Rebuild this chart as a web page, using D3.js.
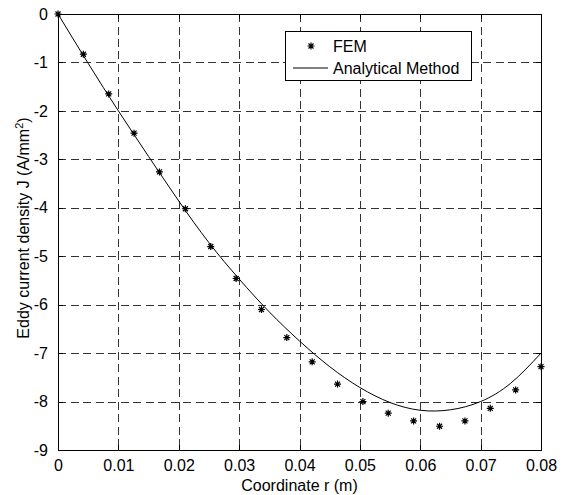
<!DOCTYPE html>
<html>
<head>
<meta charset="utf-8">
<script src="https://cdn.jsdelivr.net/npm/d3@7"></script>
<style>
  html, body { margin: 0; padding: 0; background: #fff; }
  svg { display: block; font-family: "Liberation Sans", Arial, Helvetica, sans-serif; }
</style>
</head>
<body>
<svg id="chart" width="566" height="495"></svg>
<script>
// FEM samples: radial coordinate r (m) and eddy current density J (A/mm^2)
const femR = [0, 0.0042, 0.0084, 0.0126, 0.0168, 0.0211, 0.0253, 0.0295, 0.0337, 0.0379,
              0.0421, 0.0463, 0.0505, 0.0547, 0.0589, 0.0632, 0.0674, 0.0716, 0.0758, 0.0800];
const femJ = [0, -0.83, -1.65, -2.46, -3.26, -4.02, -4.80, -5.46, -6.10, -6.68,
              -7.18, -7.64, -8.00, -8.24, -8.40, -8.51, -8.40, -8.14, -7.76, -7.28];

// Analytical solution, sampled along r
const anaR = [0, 0.005, 0.010, 0.015, 0.020, 0.025, 0.030, 0.035, 0.040,
              0.045, 0.050, 0.055, 0.060, 0.065, 0.070, 0.075, 0.080];
const anaJ = [0, -1.02, -2.00, -2.94, -3.86, -4.72, -5.47, -6.15, -6.75,
              -7.28, -7.71, -8.02, -8.18, -8.17, -8.00, -7.62, -7.00];

// Axis ticks
const xTicks = [0, 0.01, 0.02, 0.03, 0.04, 0.05, 0.06, 0.07, 0.08];
const xTickLabels = ["0", "0.01", "0.02", "0.03", "0.04", "0.05", "0.06", "0.07", "0.08"];
const yTicks = [0, -1, -2, -3, -4, -5, -6, -7, -8, -9];
const yTickLabels = ["0", "-1", "-2", "-3", "-4", "-5", "-6", "-7", "-8", "-9"];

const legendLabels = ["FEM", "Analytical Method"];

const svg = d3.select("#chart");
const plot = { left: 58, right: 541, top: 14, bottom: 450 };

const x = d3.scaleLinear().domain([0, 0.08]).range([plot.left, plot.right]);
const y = d3.scaleLinear().domain([-9, 0]).range([plot.bottom, plot.top]);

svg.append("rect").attr("width", 566).attr("height", 495).attr("fill", "#fff");

// Dashed grid
const grid = svg.append("g").attr("stroke", "#333").attr("stroke-width", 1)
  .attr("stroke-dasharray", "8,4.5").attr("shape-rendering", "crispEdges");
grid.selectAll("line.vx").data(xTicks.slice(1, -1)).join("line")
  .attr("x1", d => Math.round(x(d)) + 0.5).attr("x2", d => Math.round(x(d)) + 0.5)
  .attr("y1", plot.top).attr("y2", plot.bottom);
grid.selectAll("line.hy").data(yTicks.slice(1, -1)).join("line")
  .attr("x1", plot.left).attr("x2", plot.right)
  .attr("y1", d => Math.round(y(d)) + 0.5).attr("y2", d => Math.round(y(d)) + 0.5);

// Axes with inward ticks on all four sides
const tickLen = 5;
const fontSize = 16;
const xAxisB = d3.axisBottom(x).tickValues(xTicks).tickSize(-tickLen).tickPadding(tickLen + 5)
  .tickFormat((d, i) => xTickLabels[i]);
const xAxisT = d3.axisTop(x).tickValues(xTicks).tickSize(-tickLen).tickFormat("");
const yAxisL = d3.axisLeft(y).tickValues(yTicks).tickSize(-tickLen).tickPadding(tickLen + 5)
  .tickFormat((d, i) => yTickLabels[i]);
const yAxisR = d3.axisRight(y).tickValues(yTicks).tickSize(-tickLen).tickFormat("");

function styleAxis(g) {
  g.select(".domain").attr("stroke", "#000").attr("stroke-width", 1);
  g.selectAll(".tick line").attr("stroke", "#000");
  g.selectAll(".tick text").attr("fill", "#000").attr("font-size", fontSize)
    .attr("font-family", "Liberation Sans, Arial, sans-serif");
  g.attr("shape-rendering", "crispEdges");
}
svg.append("g").attr("transform", `translate(0,${plot.bottom})`).call(xAxisB).call(styleAxis);
svg.append("g").attr("transform", `translate(0,${plot.top})`).call(xAxisT).call(styleAxis);
svg.append("g").attr("transform", `translate(${plot.left},0)`).call(yAxisL).call(styleAxis);
svg.append("g").attr("transform", `translate(${plot.right},0)`).call(yAxisR).call(styleAxis);
svg.selectAll(".domain").attr("d", null);
svg.append("rect")
  .attr("x", plot.left + 0.5).attr("y", plot.top + 0.5)
  .attr("width", plot.right - plot.left).attr("height", plot.bottom - plot.top)
  .attr("fill", "none").attr("stroke", "#000").attr("stroke-width", 1)
  .attr("shape-rendering", "crispEdges");

// Analytical curve
const anaPts = anaR.map((r, i) => [r, anaJ[i]]);
const line = d3.line().x(d => x(d[0])).y(d => y(d[1])).curve(d3.curveNatural);
svg.append("path").datum(anaPts).attr("d", line)
  .attr("fill", "none").attr("stroke", "#000").attr("stroke-width", 1);

// Asterisk marker (plus + cross)
const starPath = "M-3.5,0H3.5M0,-3.5V3.5M-2.5,-2.5L2.5,2.5M-2.5,2.5L2.5,-2.5";
const femPts = femR.map((r, i) => [r, femJ[i]]);
svg.append("g").selectAll("path").data(femPts).join("path")
  .attr("transform", d => `translate(${x(d[0])},${y(d[1])})`)
  .attr("d", starPath).attr("fill", "none").attr("stroke", "#000").attr("stroke-width", 1.2);

// Axis titles
svg.append("text").attr("x", (plot.left + plot.right) / 2).attr("y", 491)
  .attr("text-anchor", "middle").attr("font-size", fontSize).attr("fill", "#000")
  .text("Coordinate r (m)");
const yl = svg.append("text")
  .attr("transform", `translate(29,${(plot.top + plot.bottom) / 2 - 4}) rotate(-90)`)
  .attr("text-anchor", "middle").attr("font-size", fontSize).attr("fill", "#000");
yl.append("tspan").text("Eddy current density J (A/mm");
yl.append("tspan").attr("font-size", 11).attr("dy", -6).text("2");
yl.append("tspan").attr("dy", 6).text(")");

// Legend
const lg = svg.append("g");
lg.append("rect").attr("x", 285.5).attr("y", 31.5).attr("width", 186).attr("height", 49)
  .attr("fill", "#fff").attr("stroke", "#000").attr("stroke-width", 1)
  .attr("shape-rendering", "crispEdges");
lg.append("path").attr("transform", "translate(311,46)").attr("d", starPath)
  .attr("fill", "none").attr("stroke", "#000").attr("stroke-width", 1.2);
lg.append("line").attr("x1", 293).attr("x2", 328).attr("y1", 68).attr("y2", 68)
  .attr("stroke", "#000").attr("stroke-width", 1);
lg.selectAll("text").data(legendLabels).join("text")
  .attr("x", 333).attr("y", (d, i) => 52 + i * 22)
  .attr("font-size", fontSize).attr("fill", "#000").text(d => d);
</script>
</body>
</html>
